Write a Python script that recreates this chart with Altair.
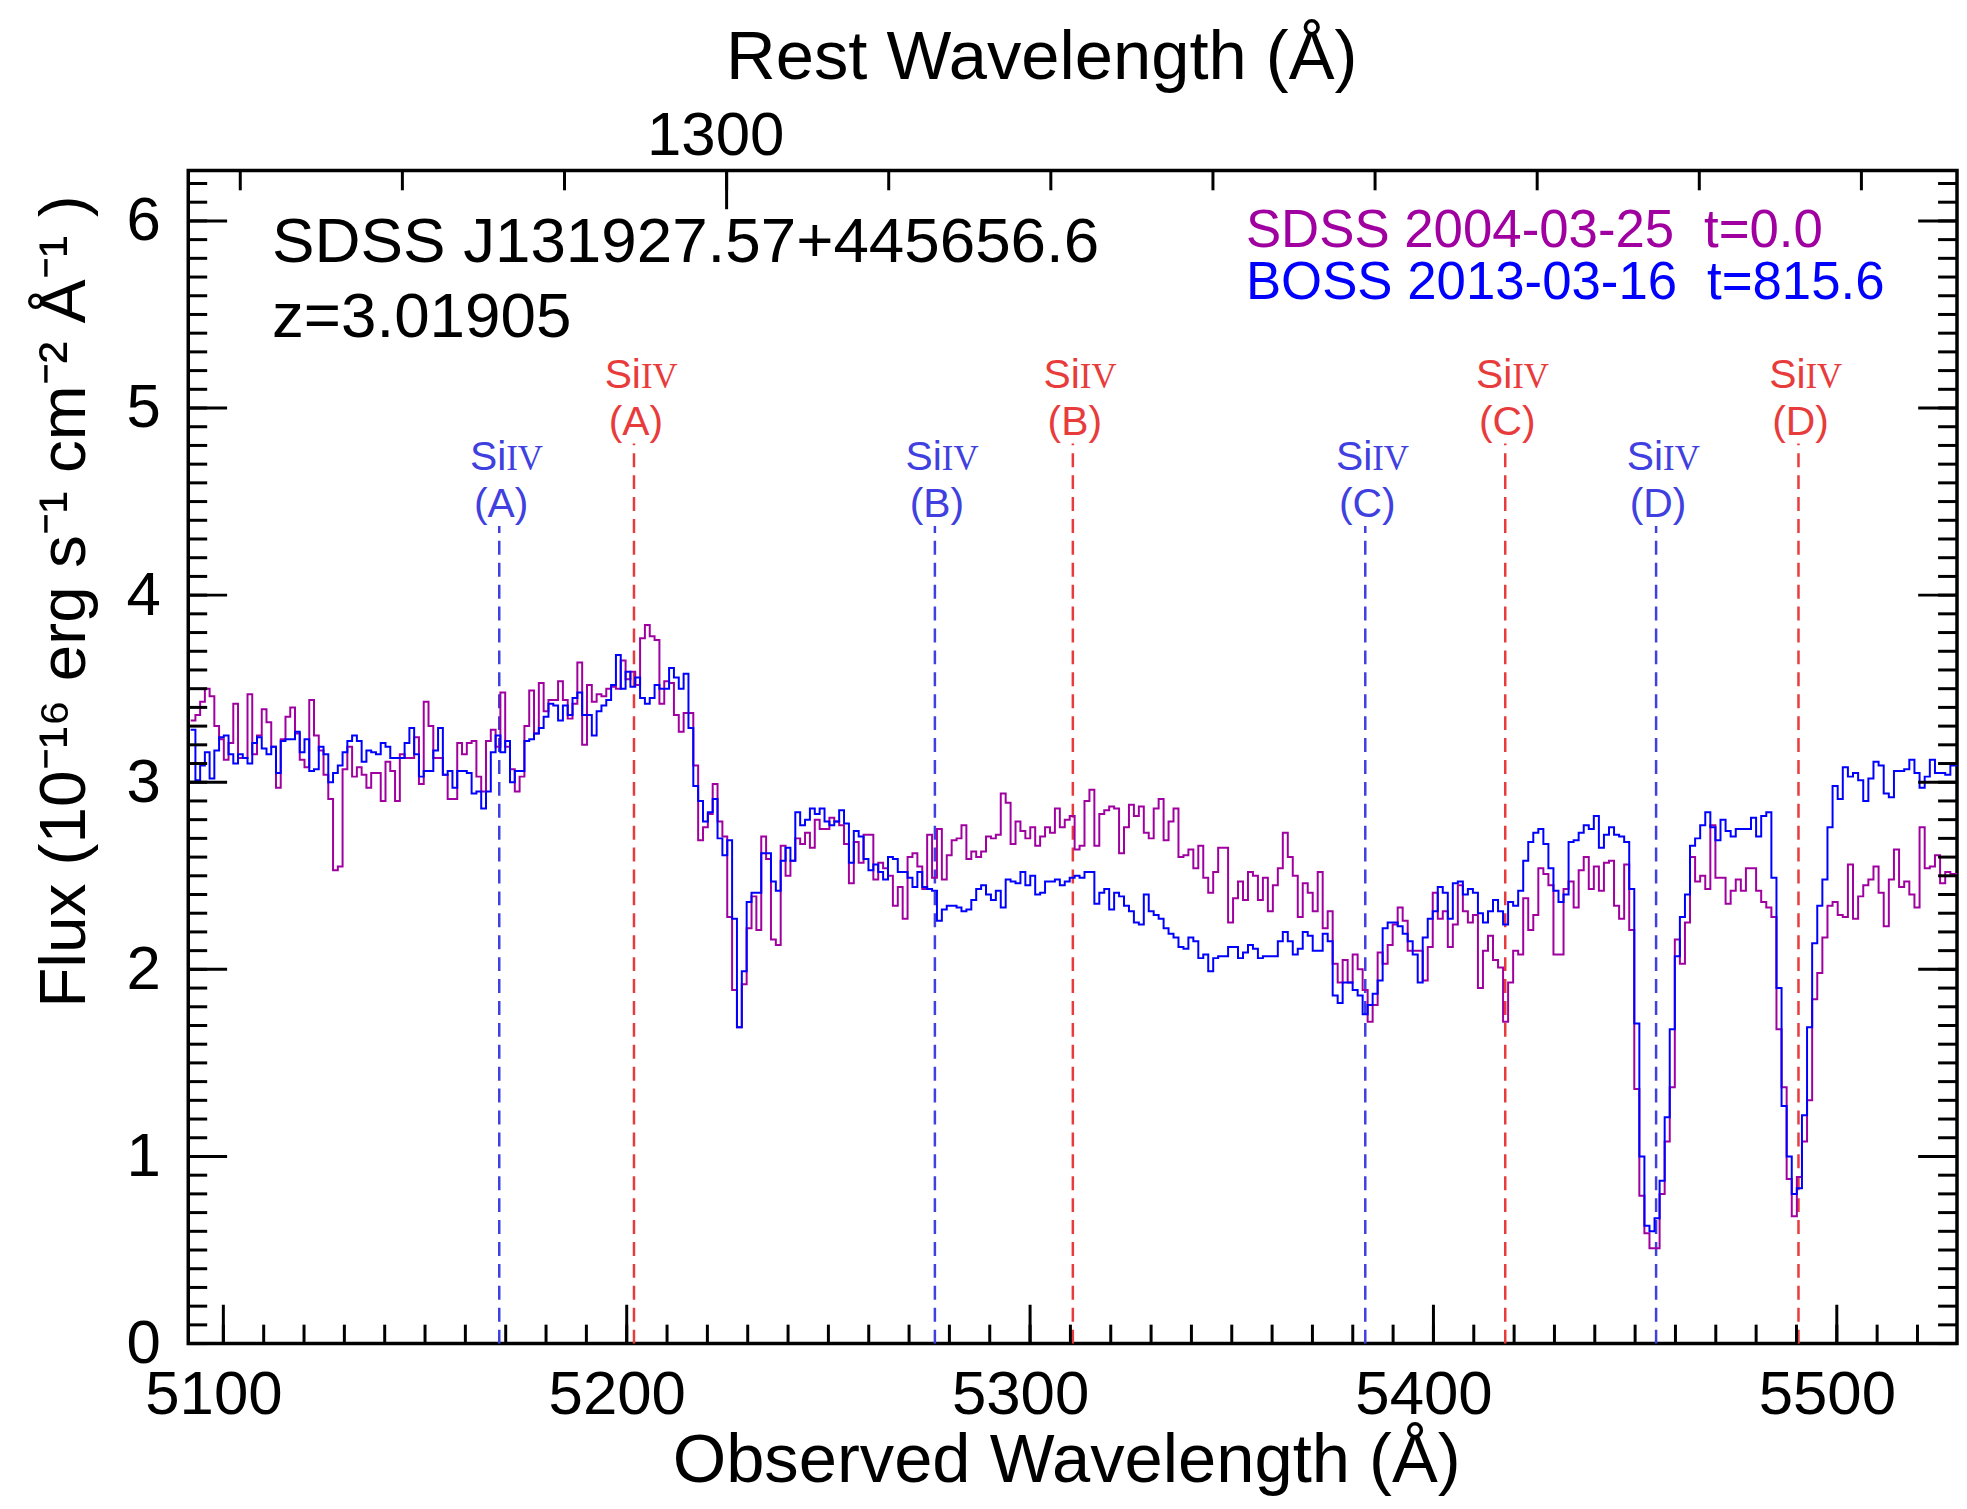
import altair as alt
import numpy as np
import pandas as pd

# ---------------- data ----------------
Z = 3.01905
WAVE_START = 5091.9      # first pixel (observed, Angstrom)
LOG_STEP = 1e-4          # SDSS/BOSS log-lambda pixel spacing
X_DOMAIN = [5091.3, 5529.8]
Y_DOMAIN = [0, 6.27]

sdss_flux = [
    3.33, 3.36, 3.43, 3.50, 3.46, 3.30, 3.23, 3.12, 3.21, 3.42,
    3.13, 3.13, 3.47, 3.15, 3.25, 3.39, 3.32, 3.19, 2.97, 3.23,
    3.35, 3.40, 3.26, 3.12, 3.08, 3.44, 3.25, 3.17, 3.04, 2.91,
    2.53, 2.55, 3.07, 3.19, 3.03, 3.08, 3.04, 2.97, 3.05, 3.05,
    2.90, 3.11, 3.06, 2.90, 3.15, 3.13, 3.13, 3.24, 2.99, 3.43,
    3.30, 3.13, 3.13, 3.04, 2.91, 2.91, 3.21, 3.15, 3.21, 3.22,
    3.03, 2.95, 3.22, 3.28, 3.19, 3.48, 3.19, 3.07, 2.95, 3.03,
    3.30, 3.49, 3.26, 3.53, 3.38, 3.44, 3.44, 3.54, 3.44, 3.34,
    3.42, 3.64, 3.20, 3.52, 3.43, 3.47, 3.46, 3.50, 3.51, 3.50,
    3.65, 3.55, 3.59, 3.52, 3.77, 3.84, 3.78, 3.76, 3.42, 3.54,
    3.53, 3.36, 3.27, 3.37, 3.37,
    3.09, 2.69, 2.76, 2.83, 2.99, 2.79, 2.71, 2.28, 1.89, 1.69,
    1.92, 2.22, 2.39, 2.21, 2.71, 2.59, 2.16, 2.13, 2.66, 2.50,
    2.58, 2.70, 2.67, 2.73, 2.65, 2.80, 2.75, 2.75, 2.81, 2.79,
    2.77, 2.67, 2.46, 2.68, 2.57, 2.72, 2.72, 2.48, 2.57, 2.54,
    2.50, 2.34, 2.44, 2.27, 2.60, 2.62, 2.55, 2.43, 2.72, 2.49,
    2.75, 2.48, 2.61, 2.69, 2.70, 2.77, 2.59, 2.63, 2.60, 2.63,
    2.71, 2.70, 2.72, 2.94, 2.89, 2.67, 2.79, 2.74, 2.70, 2.76,
    2.66, 2.71, 2.76, 2.73, 2.86, 2.76, 2.80, 2.82, 2.64, 2.66,
    2.90, 2.96, 2.66, 2.83, 2.85, 2.87, 2.86, 2.62, 2.76, 2.88,
    2.82, 2.87, 2.73, 2.70, 2.86, 2.91, 2.69, 2.79, 2.86, 2.60,
    2.61, 2.64, 2.54, 2.66, 2.49, 2.41, 2.52, 2.65, 2.65, 2.25,
    2.38, 2.47, 2.37, 2.52, 2.50, 2.37, 2.49, 2.31, 2.45, 2.54,
    2.73, 2.60, 2.50, 2.28, 2.46, 2.41, 2.31, 2.52, 2.22, 2.31,
    2.03, 1.93,
    2.05, 1.93, 2.08, 2.00, 1.89, 1.72, 1.81, 2.09, 2.03, 2.13,
    2.24, 2.33, 2.26, 2.10, 2.10, 2.10, 1.94, 2.12, 2.41, 2.27,
    2.31, 2.12, 2.24, 2.45, 2.31, 2.25, 2.29, 1.90, 2.10, 2.18,
    2.05, 2.01, 1.72, 1.93, 2.10, 2.08, 2.38, 2.21, 2.29, 2.54,
    2.51, 2.45, 2.08, 2.08, 2.43, 2.47, 2.33, 2.53, 2.60, 2.43,
    2.55, 2.42, 2.57, 2.58, 2.34, 2.27, 2.56, 2.21, 1.36, 0.79,
    0.59, 0.51, 0.51, 0.80, 1.08, 1.37, 2.16, 2.03, 2.25, 2.60,
    2.47, 2.50, 2.43, 2.77, 2.49, 2.49, 2.35, 2.42, 2.48, 2.42,
    2.54, 2.54, 2.42, 2.36, 2.33, 2.28, 1.68, 1.37, 0.88, 0.68,
    0.89, 1.08, 1.30, 1.84, 1.98, 2.17, 2.34, 2.36, 2.29, 2.28,
    2.56, 2.27, 2.39, 2.45, 2.48, 2.55, 2.41, 2.23, 2.48, 2.64,
    2.44, 2.47, 2.40, 2.33, 2.76, 2.54, 2.55, 2.61, 2.46, 2.52,
    2.51, 2.51,
]

boss_flux = [
    3.28, 3.01, 3.09, 3.16, 3.02, 3.17, 3.24, 3.25, 3.15, 3.10,
    3.15, 3.13, 3.10, 3.21, 3.24, 3.18, 3.15, 3.19, 3.05, 3.22,
    3.23, 3.23, 3.27, 3.16, 3.23, 3.06, 3.07, 3.19, 3.15, 3.00,
    3.05, 3.09, 3.16, 3.22, 3.25, 3.22, 3.11, 3.17, 3.16, 3.15,
    3.21, 3.19, 3.13, 3.13, 3.13, 3.21, 3.29, 3.15, 3.03, 3.06,
    3.06, 3.17, 3.29, 3.04, 3.06, 2.97, 3.06, 3.06, 3.05, 2.94,
    2.95, 2.86, 2.95, 3.16, 3.25, 3.16, 3.22, 3.00, 3.06, 3.06,
    3.22, 3.23, 3.26, 3.29, 3.35, 3.42, 3.41, 3.33, 3.41, 3.36,
    3.45, 3.48, 3.36, 3.36, 3.25, 3.38, 3.41, 3.44, 3.52, 3.68,
    3.50, 3.59, 3.51, 3.56, 3.45, 3.42, 3.45, 3.52, 3.50, 3.50,
    3.61, 3.56, 3.50, 3.58, 3.29,
    2.98, 2.90, 2.79, 2.84, 2.91, 2.70, 2.61, 2.69, 2.27, 1.69,
    1.99, 2.36, 2.41, 2.41, 2.62, 2.62, 2.47, 2.42, 2.58, 2.65,
    2.58, 2.84, 2.77, 2.80, 2.86, 2.83, 2.86, 2.79, 2.77, 2.79,
    2.85, 2.78, 2.57, 2.74, 2.71, 2.59, 2.53, 2.56, 2.52, 2.48,
    2.60, 2.59, 2.52, 2.52, 2.49, 2.44, 2.52, 2.44, 2.43, 2.42,
    2.26, 2.32, 2.34, 2.34, 2.33, 2.31, 2.32, 2.37, 2.43, 2.45,
    2.40, 2.37, 2.42, 2.33, 2.48, 2.47, 2.46, 2.52, 2.45, 2.50,
    2.40, 2.41, 2.47, 2.47, 2.48, 2.45, 2.47, 2.49, 2.50, 2.49,
    2.52, 2.52, 2.35, 2.41, 2.43, 2.32, 2.41, 2.39, 2.34, 2.31,
    2.25, 2.24, 2.40, 2.31, 2.29, 2.27, 2.22, 2.19, 2.17, 2.12,
    2.11, 2.17, 2.15, 2.06, 2.08, 1.99, 2.06, 2.07, 2.07, 2.12,
    2.12, 2.06, 2.09, 2.13, 2.11, 2.06, 2.07, 2.07, 2.07, 2.15,
    2.20, 2.15, 2.08, 2.11, 2.20, 2.18, 2.10, 2.10, 2.19, 2.15,
    1.86, 1.82,
    1.93, 1.93, 1.89, 1.86, 1.76, 1.81, 1.87, 1.94, 2.22, 2.25,
    2.25, 2.23, 2.19, 2.15, 2.08, 1.93, 2.17, 2.27, 2.31, 2.44,
    2.41, 2.27, 2.46, 2.47, 2.40, 2.43, 2.41, 2.30, 2.25, 2.31,
    2.37, 2.31, 2.24, 2.36, 2.34, 2.42, 2.58, 2.68, 2.73, 2.75,
    2.67, 2.54, 2.42, 2.36, 2.40, 2.68, 2.69, 2.73, 2.77, 2.75,
    2.82, 2.65, 2.72, 2.76, 2.72, 2.71, 2.68, 2.43, 1.71, 1.00,
    0.63, 0.60, 0.67, 0.87, 1.21, 1.68, 2.07, 2.28, 2.40, 2.66,
    2.70, 2.77, 2.84, 2.76, 2.69, 2.80, 2.74, 2.71, 2.75, 2.75,
    2.75, 2.81, 2.71, 2.82, 2.84, 2.49, 1.90, 1.27, 1.00, 0.80,
    0.83, 1.22, 1.69, 2.14, 2.34, 2.48, 2.76, 2.98, 2.91, 3.08,
    3.03, 3.05, 3.01, 2.90, 3.02, 3.11, 3.09, 2.94, 2.92, 3.06,
    3.06, 3.07, 3.12, 3.05, 2.97, 3.03, 3.12, 3.05, 3.05, 3.04,
    3.09, 3.09,
]

# Si IV doublet absorbers (observed wavelength of 1393.76 and 1402.77 lines)
siiv_1393_obs = [5168.4, 5276.4, 5383.1, 5455.2]
siiv_1402_obs = [5201.8, 5310.6, 5417.8, 5490.5]
systems = ["(A)", "(B)", "(C)", "(D)"]
blue_top = 4.37
red_top = 4.81

x_major = [5100, 5200, 5300, 5400, 5500]
x_minor = list(range(5100, 5530, 10))
y_major = [0, 1, 2, 3, 4, 5, 6]
y_minor = [i / 10 for i in range(0, 63)]
rest_minor = list(range(1270, 1380, 10))
rest_major = [1300]

# ---------------- styling ----------------
W, H = 1776, 1178
FONT = "Liberation Sans"
PURPLE = "#A000A0"
BLUE = "#0000FF"
LINE_BLUE = "#4040E0"
LINE_RED = "#E83C3C"

xscale = alt.Scale(domain=X_DOMAIN, nice=False, zero=False)
yscale = alt.Scale(domain=Y_DOMAIN, nice=False, zero=False)
xaxis = alt.Axis(values=x_major, format="d", title=None, labelFlush=False,
                 labelOffset=-10, labelPadding=21, labelFontSize=62,
                 labelFont=FONT, labelColor="black", ticks=False, tickSize=0,
                 domain=False, grid=False)
yaxis = alt.Axis(values=y_major, format="d", title=None, labelPadding=28,
                 labelFontSize=62, labelFont=FONT, labelColor="black",
                 ticks=False, tickSize=0, domain=False, grid=False)


def X(f):
    return alt.X(f, type="quantitative", scale=xscale, axis=xaxis)


def Y(f):
    return alt.Y(f, type="quantitative", scale=yscale, axis=yaxis)


n = len(sdss_flux)
wave = WAVE_START * 10 ** (LOG_STEP * np.arange(n + 1))
sdss_df = pd.DataFrame({"wave": wave, "flux": sdss_flux + [sdss_flux[-1]]})
boss_df = pd.DataFrame({"wave": wave, "flux": boss_flux + [boss_flux[-1]]})

layers = []

# dashed Si IV marker lines
blue_df = pd.DataFrame({"wave": siiv_1393_obs, "top": [blue_top] * 4,
                        "bot": [0] * 4, "sys": systems})
red_df = pd.DataFrame({"wave": siiv_1402_obs, "top": [red_top] * 4,
                       "bot": [0] * 4, "sys": systems})
for df, col in [(blue_df, LINE_BLUE), (red_df, LINE_RED)]:
    base = alt.Chart(df)
    layers.append(base.mark_rule(color=col, strokeWidth=2.5, strokeDash=[14, 8])
                  .encode(x=X("wave"), y=Y("bot"), y2="top:Q"))
    layers.append(base.mark_text(align="right", baseline="alphabetic", dx=7, dy=-56,
                                 font=FONT, fontSize=41, color=col)
                  .encode(x=X("wave"), y=Y("top"), text=alt.value("Si")))
    layers.append(base.mark_text(align="left", baseline="alphabetic", dx=7, dy=-56,
                                 font="Liberation Serif", fontSize=35, color=col)
                  .encode(x=X("wave"), y=Y("top"), text=alt.value("IV")))
    layers.append(base.mark_text(align="center", baseline="alphabetic", dx=2, dy=-9,
                                 font=FONT, fontSize=41, color=col)
                  .encode(x=X("wave"), y=Y("top"), text="sys:N"))

# spectra
layers.append(alt.Chart(sdss_df).mark_line(interpolate="step-after", color=PURPLE,
                                           strokeWidth=2, clip=True)
              .encode(x=X("wave"), y=Y("flux")))
layers.append(alt.Chart(boss_df).mark_line(interpolate="step-after", color=BLUE,
                                           strokeWidth=2, clip=True)
              .encode(x=X("wave"), y=Y("flux")))

# inward ticks
TW = 3
xmaj = alt.Chart(pd.DataFrame({"v": x_major}))
xmin = alt.Chart(pd.DataFrame({"v": x_minor}))
ymaj = alt.Chart(pd.DataFrame({"v": y_major}))
ymin = alt.Chart(pd.DataFrame({"v": y_minor}))
rmaj = alt.Chart(pd.DataFrame({"obs": [r * (1 + Z) for r in rest_major]}))
rmin = alt.Chart(pd.DataFrame({"obs": [r * (1 + Z) for r in rest_minor]}))

layers += [
    xmaj.mark_rule(color="black", strokeWidth=TW).encode(x=X("v"), y=alt.value(H), y2=alt.value(H - 39)),
    xmin.mark_rule(color="black", strokeWidth=TW).encode(x=X("v"), y=alt.value(H), y2=alt.value(H - 19)),
    rmaj.mark_rule(color="black", strokeWidth=TW).encode(x=X("obs"), y=alt.value(0), y2=alt.value(39)),
    rmin.mark_rule(color="black", strokeWidth=TW).encode(x=X("obs"), y=alt.value(0), y2=alt.value(20)),
    ymaj.mark_rule(color="black", strokeWidth=TW).encode(y=Y("v"), x=alt.value(0), x2=alt.value(39)),
    ymin.mark_rule(color="black", strokeWidth=TW).encode(y=Y("v"), x=alt.value(0), x2=alt.value(19)),
    ymaj.mark_rule(color="black", strokeWidth=TW).encode(y=Y("v"), x=alt.value(W), x2=alt.value(W - 39)),
    ymin.mark_rule(color="black", strokeWidth=TW).encode(y=Y("v"), x=alt.value(W), x2=alt.value(W - 19)),
]

# top axis label (rest frame)
layers.append(rmaj.transform_calculate(lab="'1300'")
              .mark_text(align="center", baseline="alphabetic", dx=-11, font=FONT,
                         fontSize=62, color="black")
              .encode(x=X("obs"), y=alt.value(-15), text="lab:N"))


def txt(s, x, y, size, color="black", align="left", angle=0):
    return (alt.Chart(pd.DataFrame({"t": [s]}))
            .mark_text(align=align, baseline="alphabetic", font=FONT, fontSize=size,
                       color=color, angle=angle)
            .encode(x=alt.value(x), y=alt.value(y), text="t:N"))


layers += [
    txt("Rest Wavelength (Å)", 857, -92, 69, align="center"),
    txt("Observed Wavelength (Å)", 882, 1317, 69, align="center"),
    txt("Flux (10⁻¹⁶ erg s⁻¹ cm⁻² Å⁻¹ )", -104, 433, 66, align="center", angle=270),
    txt("SDSS J131927.57+445656.6", 84, 92, 64),
    txt("z=3.01905", 84, 167, 64),
    txt("SDSS 2004-03-25", 1062, 77, 53, color=PURPLE),
    txt("t=0.0", 1522, 77, 53, color=PURPLE),
    txt("BOSS 2013-03-16", 1062, 129, 53, color=BLUE),
    txt("t=815.6", 1525, 129, 53, color=BLUE),
]

chart = (alt.layer(*layers)
         .properties(width=W, height=H,
                     autosize=alt.AutoSizeParams(type="none"),
                     padding={"left": 181, "top": 160, "right": 2, "bottom": 150})
         .configure_view(stroke="black", strokeWidth=3.5)
         .configure_axis(grid=False, domain=False))

chart.save("out.html", embed_options={"renderer": "svg", "actions": False})
